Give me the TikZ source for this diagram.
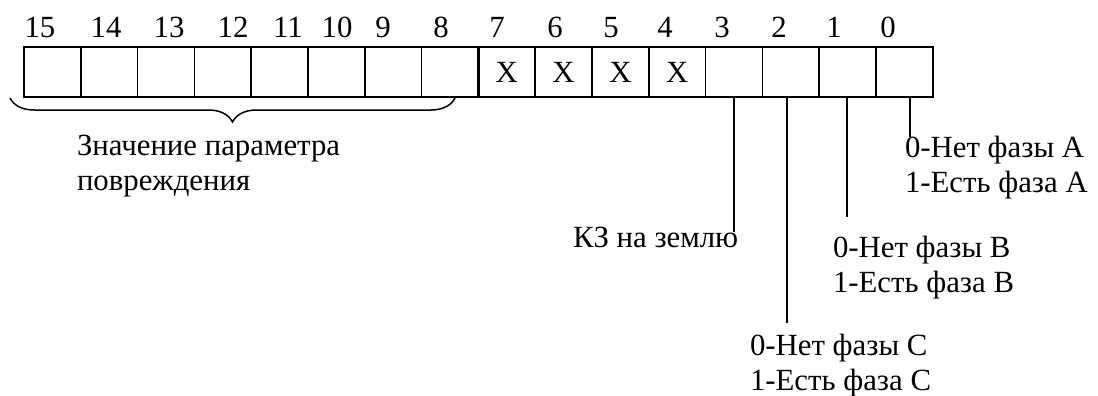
\documentclass[tikz,border=0pt]{standalone}
\usepackage{fontspec}
\setmainfont{Liberation Serif}
\usetikzlibrary{decorations.pathreplacing}
\begin{document}
\begin{tikzpicture}[x=0.5pt,y=-0.5pt,
  every node/.style={font=\fontsize{15.4}{17.5}\selectfont, inner sep=0pt, outer sep=0pt},
  cell/.style={draw, line width=0.75pt, minimum width=28.4pt, minimum height=25pt},
  lead/.style={line width=0.75pt},
  lbl/.style={anchor=base west, align=left}]
\useasboundingbox (0,0) rectangle (1098,396);
% register cells
\foreach \i in {0,...,15} {
  \node[cell] (c\i) at ({24+(15-\i)*56.8+28.4},72) {};
}
\draw[line width=1.6pt] (c8.north east) -- (c8.south east);
% bit numbers
\foreach \i/\x in {15/40,14/106,13/169,12/233,11/288,10/337,9/383,8/441,7/497,6/555,5/611,4/665,3/722,2/779,1/834,0/888} {
  \node[anchor=base] (b\i) at (\x,37) {\i};
}
% X marks
\foreach \i in {7,6,5,4} {
  \node[anchor=base] (x\i) at ({24+(15-\i)*56.8+28.4},82) {X};
}
% brace
\coordinate (br1) at (10,98);
\coordinate (br2) at (455,98);
\draw[decorate, decoration={brace, amplitude=12pt, mirror}, line width=0.75pt] (br1) -- (br2);
% labels (base anchor = baseline of the last line)
\node[lbl] (zn) at (77,190) {Значение параметра\\повреждения};
\node[lbl] (kz) at (573,247) {КЗ на землю};
\node[lbl] (fa) at (905,192) {0-Нет фазы А\\1-Есть фаза А};
\node[lbl] (fb) at (833,292) {0-Нет фазы В\\1-Есть фаза В};
\node[lbl] (fc) at (750,390) {0-Нет фазы С\\1-Есть фаза С};
% leads
\coordinate (e3) at (734,232);
\coordinate (e2) at (787,323);
\coordinate (e1) at (847,217);
\coordinate (e0) at (910,137);
\draw[lead] (e3 |- c3.south) -- (e3);
\draw[lead] (e2 |- c2.south) -- (e2);
\draw[lead] (e1 |- c1.south) -- (e1);
\draw[lead] (e0 |- c0.south) -- (e0);
\end{tikzpicture}
\end{document}
